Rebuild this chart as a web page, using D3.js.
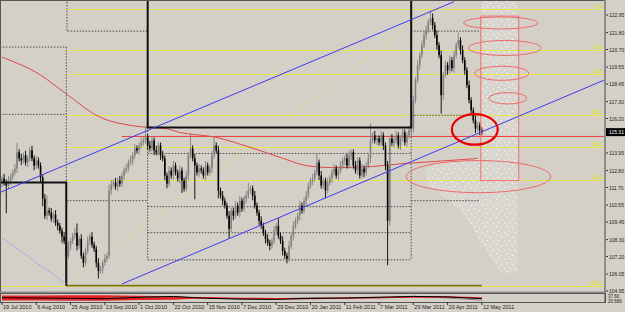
<!DOCTYPE html>
<html>
<head>
<meta charset="utf-8">
<script src="https://cdnjs.cloudflare.com/ajax/libs/d3/7.8.5/d3.min.js"></script>
<style>
  body { margin: 0; background: #d4d0c8; }
  svg { display: block; }
  text { font-family: "Liberation Sans", Arial, sans-serif; }
</style>
</head>
<body>
<div id="chart"></div>
<script>
// daily closes, one per bar (index 0 = 19 Jul 2010)
const closes = [
  112.29,112.02,111.82,112.15,112.41,112.68,112.94,114.00,113.60,113.46,113.79,113.33,113.60,114.12,113.60,
  113.13,113.46,113.13,112.35,110.97,109.86,110.19,110.06,109.67,109.93,109.40,109.20,108.88,108.49,108.22,
  107.25,107.90,108.22,108.55,108.75,107.90,108.35,107.25,106.79,107.57,108.22,108.49,107.97,107.70,106.79,
  106.26,106.39,106.79,107.05,107.25,111.50,111.89,112.02,111.76,112.15,111.95,112.48,112.81,112.94,113.33,
  113.46,113.79,114.25,114.12,114.44,114.64,114.77,114.97,114.44,114.25,114.77,114.12,113.99,114.44,113.79,
  113.60,112.48,111.95,112.81,112.48,113.13,112.68,112.29,112.81,112.15,111.63,112.48,113.79,114.25,113.60,
  113.13,112.68,112.94,112.81,112.48,113.13,112.68,112.94,113.79,114.44,114.12,111.50,111.17,110.84,110.52,
  109.86,109.00,110.19,109.86,110.52,110.06,110.84,110.32,110.97,111.17,111.50,111.63,111.17,110.52,110.06,
  109.53,109.20,108.75,108.35,108.09,107.90,108.22,108.88,109.20,108.55,108.22,107.57,107.25,107.05,107.90,
  108.55,109.20,109.53,109.86,110.52,110.19,110.84,111.17,111.82,112.15,112.29,112.68,113.33,112.48,111.82,
  112.15,111.50,112.02,112.29,112.68,112.94,112.48,112.81,113.13,113.46,113.60,113.13,113.79,113.99,113.13,
  112.81,113.46,112.48,112.94,112.68,113.13,113.60,114.77,115.10,114.77,114.90,114.64,115.10,114.44,113.13,
  109.53,114.90,114.60,114.77,115.10,114.44,114.90,115.29,114.64,115.10,115.42,115.55,117.39,118.70,119.68,
  120.33,120.98,121.64,121.97,122.49,122.75,122.29,121.64,120.98,120.33,117.72,119.03,119.68,119.35,120.00,
  119.48,120.33,120.98,121.31,120.66,120.00,119.35,118.37,117.39,116.73,116.08,115.55,115.75,115.42,115.31
];
const firstOpen = 112.00;
// wick lengths in tenths of a yen
const upWick = [
  2,3,2,3,2, 2,3,6,2,3, 2,3,2,2,3,
  2,3,2,2,2, 3,10,2,3,2, 3,2,2,2,3,
  2,3,2,2,3, 6,2,3,2,2, 3,2,3,2,2,
  3,2,2,3,2, 4,3,2,3,2, 3,2,2,3,2,
  3,2,3,2,2, 3,2,7,2,3, 2,2,3,2,2,
  3,2,2,3,2, 3,2,2,3,2, 2,3,2,10,2,
  3,2,3,2,2, 3,2,2,3,5, 2,3,2,3,2,
  2,3,2,2,3, 2,3,2,2,3, 5,2,2,3,2,
  2,3,2,2,3, 2,2,3,2,5, 2,3,2,2,3,
  2,3,2,2,3, 2,2,3,2,2, 3,2,6,2,3,
  2,2,3,2,2, 3,2,2,3,2, 2,3,3,2,2,
  3,2,2,3,2, 2,3,11,2,3, 2,2,3,2,2,
  3,2,3,2,3, 2,2,3,2,2, 3,2,3,2,3,
  2,3,2,3,2, 5,3,2,3,2, 3,2,3,2,3,
  2,3,2,5,2, 3,2,2,3,2, 2,3,2,2,2
];
const dnWick = [
  3,2,18,2,3, 2,2,3,2,3, 2,2,3,2,2,
  3,2,2,3,5, 2,3,2,2,3, 2,3,2,4,2,
  18,2,3,2,2, 3,2,2,3,2, 2,3,2,2,3,
  5,2,3,2,2, 2,3,2,2,3, 2,2,3,2,2,
  2,3,2,2,3, 2,2,2,3,2, 2,3,2,2,3,
  2,3,3,2,2, 3,2,2,3,8, 2,2,3,2,2,
  22,2,3,2,2, 3,2,2,3,2, 2,5,2,3,2,
  2,6,2,3,2, 2,3,2,2,3, 2,2,3,2,2,
  3,2,2,3,2, 3,2,2,3,2, 2,3,2,3,2,
  2,3,2,2,3, 2,2,3,2,2, 3,2,2,3,2,
  2,5,2,2,3, 2,2,3,2,2, 3,2,2,3,2,
  2,3,2,2,3, 2,2,3,2,2, 3,2,2,3,3,
  29,3,2,3,2, 2,3,2,2,3, 2,2,3,2,2,
  3,2,2,3,2, 2,3,2,3,2, 12,3,2,3,2,
  2,3,2,2,3, 2,3,2,2,3, 2,3,2,3,2
];

const dateIdx = [0,16,32,48,64,80,96,112,128,144,160,176,192,208,224];
const dateLabels = ['19 Jul 2010','6 Aug 2010','25 Aug 2010','13 Sep 2010','1 Oct 2010','22 Oct 2010',
  '15 Nov 2010','7 Dec 2010','29 Dec 2010','20 Jan 2011','11 Feb 2011','7 Mar 2011','29 Mar 2011',
  '20 Apr 2011','12 May 2011'];
// 115.10 sits under the last-price box, so it is left out
const priceTicks = [122.95,121.80,120.70,119.55,118.45,117.30,116.20,113.95,112.80,111.70,
  110.55,109.45,108.30,107.20,106.05,104.95];
const lastPrice = 115.31;

// moving average (sampled bars)
const maIdx = [0,18,29,46,60,68,76,83,100,116,130,142,154,173,187,195,222];
const maVal = [120.20,119.03,117.91,116.27,115.75,115.62,115.55,115.29,114.97,114.31,113.66,113.13,
  113.00,113.07,113.26,113.33,113.59];

// fibonacci retracement
const fibHigh = 123.33, fibLow = 105.30;
const fibStart = 30, fibEnd = 200;
const fibLevels = [0, 14.6, 23.6, 38.2, 50.0, 61.8, 100.0];
const fibNames = ['0.0','14.6','23.6','38.2','50.0','61.8','100.0'];

// trend lines [index, price]
const blueUpper = [[-1,111.37],[211,123.82]];
const blueLower = [[56,105.41],[281,118.70]];
const blueDash = [[0,108.42],[30,105.41]];
const redLevel = [[56,115.03],[281,115.03]];
const blackSteps = [
  [[-1,112.02],[30,112.02],[30,105.30]],
  [[68,124],[68,115.62],[191,115.62],[191,124]]
];
const dotted = [
  [[-1,120.86],[30,120.86]], [[-1,116.47],[30,116.47]], [[30,120.86],[30,110.84]],
  [[30.3,124],[30.3,121.9],[68,121.9]], [[30.3,110.84],[68,110.84]],
  [[68,115.62],[68,106.98]], [[68,113.92],[191,113.92]], [[68,110.45],[191,110.45]],
  [[68,108.75],[191,108.75]], [[68,106.98],[191,106.98]], [[191,124],[191,106.98]],
  [[191,121.9],[223,121.9]], [[191,116.41],[223,116.41]], [[191,110.84],[223,110.84]]
];
// ellipses: centre index, centre price, half width (bars), half height (price)
const ellipses = [
  {i:232.8, p:122.43, di:17.3, dp:0.39, w:1,   c:'#f06a6a'},
  {i:234.7, p:120.80, di:17.0, dp:0.49, w:1,   c:'#f06a6a'},
  {i:233.3, p:119.15, di:12.6, dp:0.46, w:1,   c:'#f06a6a'},
  {i:236.1, p:117.52, di:8.9,  dp:0.37, w:1,   c:'#f06a6a'},
  {i:220.7, p:115.49, di:10.7, dp:1.00, w:2.2, c:'#e80000'},
  {i:222.4, p:112.41, di:33.8, dp:1.05, w:1,   c:'#f06a6a'}
];
const redBox = {i1:223.5, i2:241.2, p1:122.88, p2:112.15};
const speckle = [[224,123.93],[240.8,123.93],[240.8,106.13],[232.4,106.13],[223,108.22],[216,109.86],
  [209,110.84],[198.8,111.82],[197.4,112.81],[204.4,113.46],[224,113.59]];

// indicator window
const indIdx = [0,16,32,48,64,80,96,112,128,144,160,176,192,208,224];
const indBlack = [55,50,45,40,60,72,45,35,30,45,50,62,72,66,40];
const indRed   = [42,40,38,40,42,50,55,45,40,42,48,55,62,64,52];
const indGray  = [45,40,35,45,55,66,50,30,38,55,45,50,76,50,18];
const bandIdx = [0,16,32,48,64,80,93];
const bandTop = [85,85,88,88,82,75,55];
const bandBot = [15,15,12,12,20,25,45];
const indLabels = ['37.60','20.666'];

const W = 625, H = 312;
const plotL = 1, plotR = 605, plotT = 1, plotB = 292, indT = 294, indB = 302;

const svg = d3.select('#chart').append('svg').attr('width', W).attr('height', H);
svg.append('rect').attr('width', W).attr('height', H).attr('fill', '#d4d0c8');

const x = d3.scaleLinear().domain([0, 281]).range([2, 604]);
const y = d3.scaleLinear().domain([104.95, 122.95]).range([291, 15]);
const yi = d3.scaleLinear().domain([0, 100]).range([301.5, 294.5]);

svg.append('clipPath').attr('id', 'plot').append('rect')
  .attr('x', plotL).attr('y', plotT).attr('width', plotR - plotL).attr('height', plotB - plotT);
svg.append('clipPath').attr('id', 'ind').append('rect')
  .attr('x', plotL).attr('y', indT).attr('width', plotR - plotL).attr('height', indB - indT);

const defs = svg.append('defs');
const pat = defs.append('pattern').attr('id', 'dots').attr('patternUnits', 'userSpaceOnUse')
  .attr('width', 11).attr('height', 9);
pat.append('rect').attr('width', 11).attr('height', 9).attr('fill', '#d9d5cf');
[[1,1],[6,3],[9,7],[3,6]].forEach(p => pat.append('rect').attr('x', p[0]).attr('y', p[1])
  .attr('width', 1).attr('height', 1).attr('fill', '#ffffff'));

const g = svg.append('g').attr('clip-path', 'url(#plot)');
const line = d3.line().x(d => x(d[0])).y(d => y(d[1]));

// speckled zone
g.append('path').attr('d', line(speckle) + 'Z').attr('fill', 'url(#dots)');

// fib levels
const fibPrice = lv => fibHigh - (fibHigh - fibLow) * lv / 100;
g.selectAll('line.fib').data(fibLevels).join('line').attr('class', 'fib')
  .attr('x1', d => d === 100 ? 0 : x(fibStart)).attr('x2', plotR)
  .attr('y1', d => Math.round(y(fibPrice(d))) + 0.5).attr('y2', d => Math.round(y(fibPrice(d))) + 0.5)
  .attr('stroke', '#e6e650').attr('stroke-width', 1);
g.selectAll('text.fib').data(fibLevels).join('text').attr('class', 'fib')
  .attr('x', plotR - 2).attr('y', d => y(fibPrice(d)) - 1)
  .attr('text-anchor', 'end').attr('font-size', 5.5).attr('fill', '#e2e200')
  .text((d, i) => fibNames[i]);
g.append('path').attr('d', line([[fibStart, fibLow], [fibEnd, fibHigh]]))
  .attr('stroke', '#e8e840').attr('stroke-dasharray', '1,2').attr('fill', 'none');
g.append('path').attr('d', line([[fibStart, fibLow], [224, fibLow]]))
  .attr('stroke', '#7a7424').attr('stroke-width', 1.6).attr('fill', 'none');

// dotted boxes
g.selectAll('path.dot').data(dotted).join('path').attr('class', 'dot')
  .attr('d', line).attr('fill', 'none').attr('stroke', '#4a4a4a')
  .attr('stroke-width', 1).attr('stroke-dasharray', '1.5,1.5');

// red price level
g.append('path').attr('d', line(redLevel)).attr('stroke', '#ee3a3a').attr('fill', 'none');

// moving average
const ma = maIdx.map((d, i) => [d, maVal[i]]);
g.append('path').attr('d', d3.line().x(d => x(d[0])).y(d => y(d[1])).curve(d3.curveMonotoneX)(ma))
  .attr('fill', 'none').attr('stroke', '#e04848').attr('stroke-width', 1);

// candles
const bars = closes.map((c, i) => {
  const o = i ? closes[i - 1] : firstOpen;
  return {i, o, c, h: Math.max(o, c) + upWick[i] / 10, l: Math.min(o, c) - dnWick[i] / 10};
});
const col = d => d.c >= d.o ? '#808080' : '#000000';
g.selectAll('line.wick').data(bars).join('line').attr('class', 'wick')
  .attr('x1', d => x(d.i)).attr('x2', d => x(d.i))
  .attr('y1', d => y(d.h)).attr('y2', d => y(d.l))
  .attr('stroke', col).attr('stroke-width', 0.9);
g.selectAll('rect.body').data(bars).join('rect').attr('class', 'body')
  .attr('x', d => x(d.i) - 0.8).attr('width', 1.6)
  .attr('y', d => y(Math.max(d.o, d.c)))
  .attr('height', d => Math.max(1, Math.abs(y(d.o) - y(d.c))))
  .attr('fill', col);

// black steps
g.selectAll('path.step').data(blackSteps).join('path').attr('class', 'step')
  .attr('d', line).attr('fill', 'none').attr('stroke', '#111').attr('stroke-width', 2);

// blue trend lines
g.append('path').attr('d', line(blueUpper)).attr('stroke', '#3c3cf0').attr('fill', 'none');
g.append('path').attr('d', line(blueLower)).attr('stroke', '#3c3cf0').attr('fill', 'none');
g.append('path').attr('d', line(blueDash)).attr('stroke', '#6a9af0')
  .attr('stroke-dasharray', '1.5,1.5').attr('fill', 'none');

// red box and ellipses
g.append('rect').attr('x', x(redBox.i1)).attr('y', y(redBox.p1))
  .attr('width', x(redBox.i2) - x(redBox.i1)).attr('height', y(redBox.p2) - y(redBox.p1))
  .attr('fill', 'none').attr('stroke', '#f07070');
g.selectAll('ellipse').data(ellipses).join('ellipse')
  .attr('cx', d => x(d.i)).attr('cy', d => y(d.p))
  .attr('rx', d => x(d.i + d.di) - x(d.i)).attr('ry', d => y(d.p - d.dp) - y(d.p))
  .attr('fill', 'none').attr('stroke', d => d.c).attr('stroke-width', d => d.w);

// indicator window
const gi = svg.append('g').attr('clip-path', 'url(#ind)');
gi.append('path').attr('d', d3.area().x((d, i) => x(bandIdx[i])).y0((d, i) => yi(bandBot[i]))
  .y1((d, i) => yi(bandTop[i]))(bandIdx)).attr('fill', '#e82020');
const indLine = arr => d3.line().x((d, i) => x(indIdx[i])).y(d => yi(d))(arr);
gi.append('path').attr('d', indLine(indGray)).attr('stroke', '#8a8a8a').attr('fill', 'none');
gi.append('path').attr('d', indLine(indRed)).attr('stroke', '#e82020').attr('stroke-width', 1.3).attr('fill', 'none');
gi.append('path').attr('d', indLine(indBlack)).attr('stroke', '#000').attr('fill', 'none');

// frames
svg.append('rect').attr('x', 0.5).attr('y', 0.5).attr('width', plotR).attr('height', plotB)
  .attr('fill', 'none').attr('stroke', '#555');
svg.append('line').attr('x1', 0).attr('x2', plotR + 1).attr('y1', plotB + 0.5).attr('y2', plotB + 0.5)
  .attr('stroke', '#8c8c8c').attr('stroke-width', 2);
svg.append('line').attr('x1', plotR).attr('x2', plotR).attr('y1', 0).attr('y2', indB + 1)
  .attr('stroke', '#8c8c8c').attr('stroke-width', 2);
svg.append('rect').attr('x', 0.5).attr('y', indT - 0.5).attr('width', plotR).attr('height', indB - indT + 1)
  .attr('fill', 'none').attr('stroke', '#555');

// right price axis
const yAxis = svg.append('g');
yAxis.selectAll('line').data(priceTicks).join('line')
  .attr('x1', plotR + 1).attr('x2', plotR + 3).attr('y1', d => y(d)).attr('y2', d => y(d)).attr('stroke', '#333');
yAxis.selectAll('text').data(priceTicks).join('text')
  .attr('x', plotR + 4).attr('y', d => y(d) + 2).attr('font-size', 5).attr('fill', '#222').text(d => d.toFixed(2));
svg.append('rect').attr('x', plotR + 1).attr('y', y(lastPrice) - 4).attr('width', 19).attr('height', 8).attr('fill', '#000');
svg.append('text').attr('x', plotR + 4).attr('y', y(lastPrice) + 2).attr('font-size', 5).attr('fill', '#fff')
  .text(lastPrice.toFixed(2));
svg.selectAll('text.ind').data(indLabels).join('text').attr('class', 'ind')
  .attr('x', plotR + 3).attr('y', (d, i) => indT + 4 + i * 4.5).attr('font-size', 4.5).attr('fill', '#222').text(d => d);

// date axis
const xAxis = svg.append('g');
xAxis.selectAll('line').data(dateIdx).join('line')
  .attr('x1', d => x(d)).attr('x2', d => x(d)).attr('y1', indB).attr('y2', indB + 3).attr('stroke', '#333');
xAxis.selectAll('text').data(dateIdx).join('text')
  .attr('x', d => x(d) + 1).attr('y', 309).attr('font-size', 5.5).attr('fill', '#222')
  .text((d, i) => dateLabels[i]);
</script>
</body>
</html>
